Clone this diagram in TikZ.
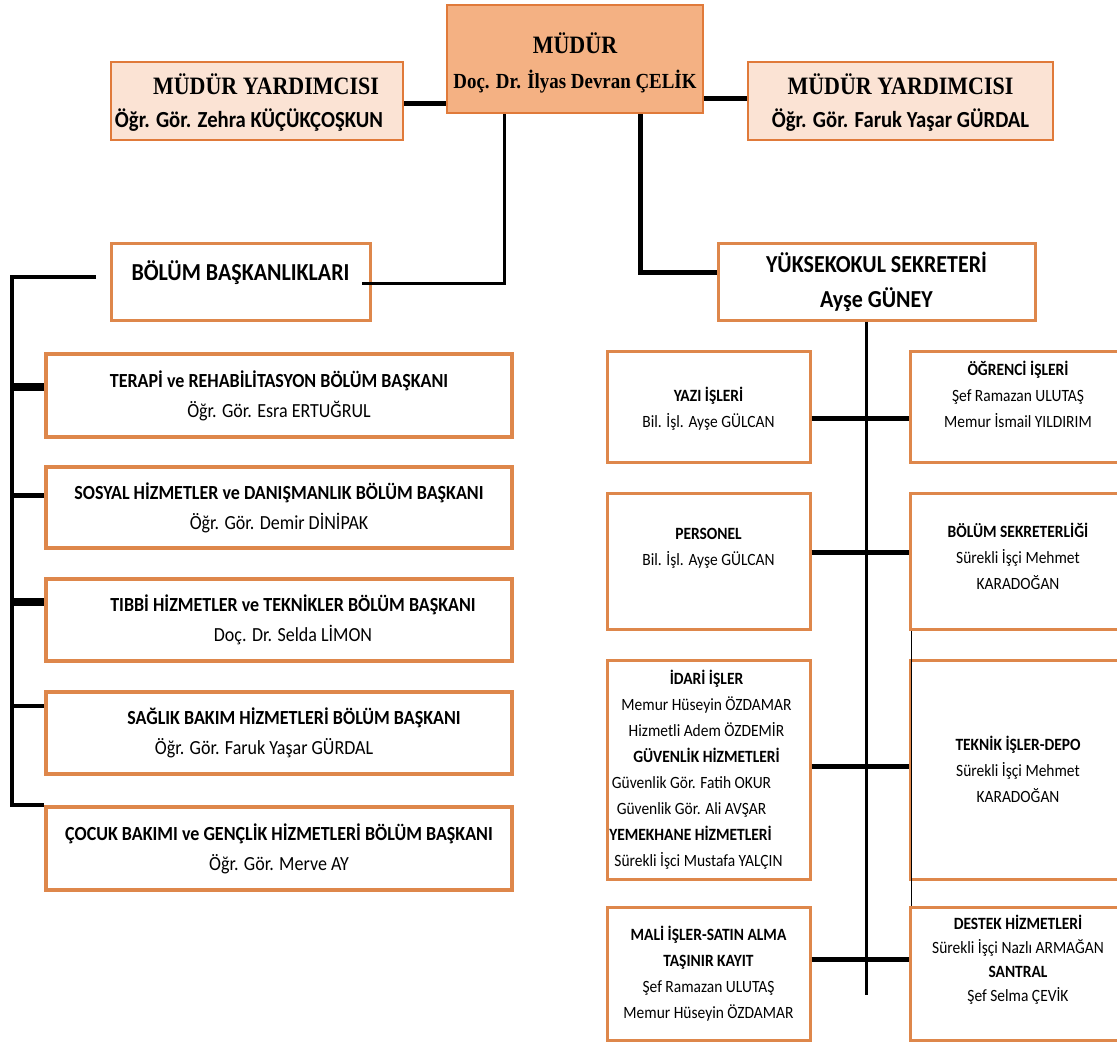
\documentclass[tikz,border=0pt]{standalone}
\usepackage{fontspec}
\setmainfont{Carlito}[FakeStretch=0.9]
\newfontfamily\tnr[FakeStretch=0.88]{Liberation Serif}
\definecolor{obord}{HTML}{DE874B}
\definecolor{mbord}{HTML}{E07A3A}
\definecolor{mfill}{HTML}{F4B183}
\definecolor{myfill}{HTML}{FBE3D4}
\tikzset{
  bx/.style={draw=obord, fill=white, inner sep=0pt, line width=3pt},
  deptbox/.style={bx, line width=4pt},
  topbox/.style={draw=mbord, fill=myfill, inner sep=0pt, line width=2pt},
  bossbox/.style={draw=mbord, fill=mfill, inner sep=0pt, line width=2.5pt},
  lkthin/.style={line width=1pt, black},
  lkmid/.style={line width=3pt, black},
  lkbus/.style={line width=4.5pt, black},
  lkfat/.style={line width=5pt, black},
  lkheavy/.style={line width=8pt, black},
  depttext/.style={align=center, inner sep=0pt, font=\fontsize{20}{30}\selectfont},
  smalltext/.style={align=center, inner sep=0pt, font=\fontsize{17.2}{26}\selectfont},
  bigtext/.style={align=center, inner sep=0pt, font=\bfseries\fontsize{24.4}{35}\selectfont},
  toptext/.style={align=center, inner sep=0pt, font=\bfseries\fontsize{23}{33}\selectfont},
}
\newcommand\orgbox[6]{\node[#1, minimum width={(#5-#3)*1pt}, minimum height={(#6-#4)*1pt}] (#2) at ({(#3+#5)/2},{(#4+#6)/2}) {};}
\begin{document}
\begin{tikzpicture}[x=1pt, y=-1pt]
\useasboundingbox[fill=white] (0,0) rectangle (1117,1045);

% ---------- top row ----------
\orgbox{bossbox}{mudur}{447}{5}{703}{113}
\orgbox{topbox}{myl}{111}{62}{403}{140}
\orgbox{topbox}{myr}{748}{62}{1053}{140}
\node[align=center, inner sep=0pt, font=\tnr\bfseries\fontsize{21.5}{35}\selectfont] (mudurt) at ([yshift=-4pt]mudur.center) {{\fontsize{25}{35}\selectfont MÜDÜR}\\Doç. Dr. İlyas Devran ÇELİK};
\node[toptext] (mylt) at ([xshift=-8pt, yshift=-2pt]myl.center)
  {{\tnr\bfseries\fontsize{25}{33}\selectfont\hspace*{34pt}MÜDÜR YARDIMCISI}\\Öğr. Gör. Zehra KÜÇÜKÇOŞKUN};
\node[toptext] (myrt) at ([yshift=-2pt]myr.center)
  {{\tnr\bfseries\fontsize{25}{33}\selectfont MÜDÜR YARDIMCISI}\\Öğr. Gör. Faruk Yaşar GÜRDAL};

\draw[lkfat] (myl.east |- 0,103) -- (mudur.west |- 0,103);
\draw[lkfat] (mudur.east |- 0,98) -- (myr.west |- 0,98);

% ---------- BÖLÜM BAŞKANLIKLARI ----------
\orgbox{bx}{bb}{111}{243}{370}{320}
\node[bigtext] (bbt) at (bb.center |- 0,273) {BÖLÜM BAŞKANLIKLARI};
\coordinate (bbr) at (362,283);
\draw[lkmid] (mudur.south -| 504,0) |- (bbr);
\coordinate (bbl) at (96,277);
\coordinate (busT) at (12,277);

% ---------- department boxes ----------
\orgbox{deptbox}{d1}{46}{354}{512}{437}
\orgbox{deptbox}{d2}{46}{467}{512}{548}
\orgbox{deptbox}{d3}{46}{579}{512}{661}
\orgbox{deptbox}{d4}{46}{692}{512}{774}
\orgbox{deptbox}{d5}{46}{807}{512}{890}
\node[depttext] (d1t) at (d1.center) {\textbf{TERAPİ ve REHABİLİTASYON BÖLÜM BAŞKANI}\\Öğr. Gör. Esra ERTUĞRUL};
\node[depttext] (d2t) at (d2.center) {\textbf{SOSYAL HİZMETLER ve DANIŞMANLIK BÖLÜM BAŞKANI}\\Öğr. Gör. Demir DİNİPAK};
\node[depttext] (d3t) at ([xshift=14pt]d3.center) {\textbf{TIBBİ HİZMETLER ve TEKNİKLER BÖLÜM BAŞKANI}\\Doç. Dr. Selda LİMON};
\node[depttext] (d4t) at ([xshift=15pt]d4.center) {\textbf{SAĞLIK BAKIM HİZMETLERİ BÖLÜM BAŞKANI}\\\hspace*{-60pt}Öğr. Gör. Faruk Yaşar GÜRDAL};
\node[depttext] (d5t) at (d5.center) {\textbf{ÇOCUK BAKIMI ve GENÇLİK HİZMETLERİ BÖLÜM BAŞKANI}\\Öğr. Gör. Merve AY};

\draw[lkbus] (bbl) -- (busT) |- (d5.north west);
\draw[lkheavy] (busT |- 0,387) -- (d1.west |- 0,387);
\draw[lkfat] (busT |- 0,495) -- (d2.west |- 0,495);
\draw[lkheavy] (busT |- 0,602) -- (d3.west |- 0,602);
\draw[lkbus] (busT |- 0,706) -- (d4.west |- 0,706);

% ---------- YÜKSEKOKUL SEKRETERİ ----------
\orgbox{bx}{ys}{718}{243}{1035}{320}
\node[bigtext] (yst) at (ys.center) {YÜKSEKOKUL SEKRETERİ\\Ayşe GÜNEY};
\draw[lkfat] (mudur.south -| 640,0) |- (ys.west |- 0,272);
\coordinate (spineEnd) at (866,995);
\draw[lkmid] (ys.south -| spineEnd) -- (spineEnd);

% ---------- left column ----------
\orgbox{bx}{yazi}{607}{351}{810}{462}
\orgbox{bx}{pers}{607}{493}{810}{629}
\orgbox{bx}{idari}{607}{660}{810}{879}
\orgbox{bx}{mali}{607}{907}{810}{1040}
% ---------- right column ----------
\orgbox{bx}{ogr}{910}{351}{1126}{462}
\orgbox{bx}{bsek}{910}{493}{1126}{629}
\orgbox{bx}{tekn}{910}{660}{1126}{879}
\orgbox{bx}{destek}{910}{907}{1126}{1040}

\node[smalltext] (yazit) at ([yshift=-2pt]yazi.center) {\textbf{YAZI İŞLERİ}\\Bil. İşl. Ayşe GÜLCAN};
\node[smalltext] (perst) at ([yshift=13pt]pers.center) {\textbf{PERSONEL}\\Bil. İşl. Ayşe GÜLCAN};
\node[smalltext] (idarit) at ([xshift=-2pt]idari.center) {\textbf{İDARİ İŞLER}\\Memur Hüseyin ÖZDAMAR\\Hizmetli Adem ÖZDEMİR\\\textbf{GÜVENLİK HİZMETLERİ}\\\hspace*{-30pt}Güvenlik Gör. Fatih OKUR\\\hspace*{-30pt}Güvenlik Gör. Ali AVŞAR\\\hspace*{-32pt}\textbf{YEMEKHANE HİZMETLERİ}\\\hspace*{-16pt}Sürekli İşci Mustafa YALÇIN};
\node[smalltext] (malit) at (mali.center) {\textbf{MALİ İŞLER-SATIN ALMA}\\\textbf{TAŞINIR KAYIT}\\Şef Ramazan ULUTAŞ\\Memur Hüseyin ÖZDAMAR};
\node[smalltext] (ogrt) at ([yshift=12pt]ogr.center) {\textbf{ÖĞRENCİ İŞLERİ}\\Şef Ramazan ULUTAŞ\\Memur İsmail YILDIRIM};
\node[smalltext] (bsekt) at ([yshift=5pt]bsek.center) {\textbf{BÖLÜM SEKRETERLİĞİ}\\Sürekli İşçi Mehmet\\KARADOĞAN};
\node[smalltext] (teknt) at (tekn.center) {\textbf{TEKNİK İŞLER-DEPO}\\Sürekli İşçi Mehmet\\KARADOĞAN};
\node[smalltext, font=\fontsize{17.2}{24}\selectfont] (destekt) at ([yshift=14pt]destek.center) {\textbf{DESTEK HİZMETLERİ}\\Sürekli İşçi Nazlı ARMAĞAN\\\textbf{SANTRAL}\\Şef Selma ÇEVİK};

\draw[lkfat] (yazi.east |- 0,418) -- (ogr.west |- 0,418);
\draw[lkfat] (pers.east |- 0,552) -- (bsek.west |- 0,552);
\draw[lkfat] (idari.east |- 0,766) -- (tekn.west |- 0,766);
\draw[lkfat] (mali.east |- 0,959) -- (destek.west |- 0,959);
\draw[lkthin] ([xshift=2.5pt]bsek.south west) -- ([xshift=2.5pt]destek.north west);
\end{tikzpicture}
\end{document}
